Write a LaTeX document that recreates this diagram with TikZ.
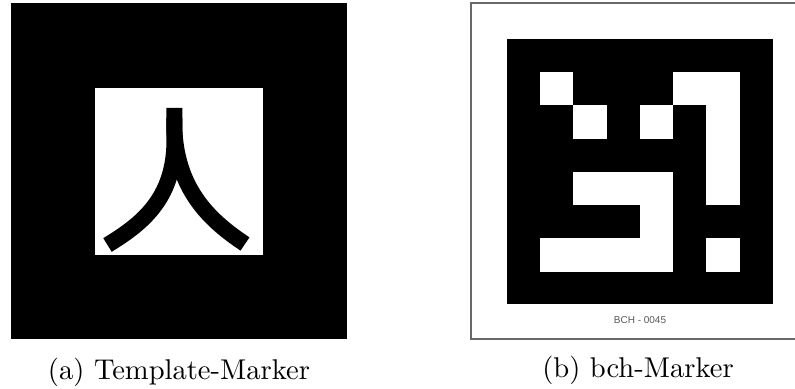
\documentclass[tikz,border=0pt]{standalone}
\usepackage{fontspec}
\usepackage{tikz}
\usetikzlibrary{positioning}
\newfontfamily\bchfont{Liberation Sans}
\definecolor{framegray}{RGB}{105, 105, 105}
\definecolor{idgray}{RGB}{90, 90, 90}

\begin{document}
\begin{tikzpicture}[
  x=0.35pt, y=-0.35pt,
  square/.style={rectangle, inner sep=0pt, outer sep=0pt},
  caption/.style={inner sep=0pt, font=\fontsize{10}{12}\selectfont},
  stroke/.style={line width=5.6pt, line cap=butt},
  node distance=6.6pt
]
\useasboundingbox (0,0) rectangle (795,389);

% template marker
\node[square, fill=black, minimum width=117.6pt, minimum height=117.6pt] (tmpl) at (179,171) {};
\node[square, fill=white, minimum width=58.8pt, minimum height=58.45pt] (tmplwin) at (179,171.5) {};
\draw[stroke] (174.5,108) -- (174.5,140) .. controls (174.5,200) and (140,225) .. (107.5,245);
\draw[stroke] (174.5,118) -- (174.5,132) .. controls (178,192) and (212,222) .. (245,244);
\node[caption, below=of tmpl] (capa) {(a) Template-Marker};

% bch marker
\node[square, fill=white, draw=framegray, line width=0.6pt, minimum width=119pt, minimum height=117.6pt] (bch) at (641,171) {};
\node[square, fill=black, minimum width=93.1pt, minimum height=92.75pt] (bchcode) at (640,171.5) {};
\foreach \c/\r/\w/\h in {1/1/1/1, 5/1/2/1, 6/1/1/4, 2/2/1/1, 4/2/1/1,
                         2/4/3/1, 4/4/1/3, 1/6/4/1, 6/6/1/1}
  \fill[white] ([shift={(\c*33.25,\r*33.25)}]bchcode.north west) rectangle ++(\w*33.25,\h*33.25);
\node[inner sep=0pt, text=idgray, font=\bchfont\fontsize{3.5}{4}\selectfont] (bchid) at (640,320) {BCH - 0045};
\node[caption] (capb) at (638,370.5) {(b) bch-Marker};

\end{tikzpicture}
\end{document}
